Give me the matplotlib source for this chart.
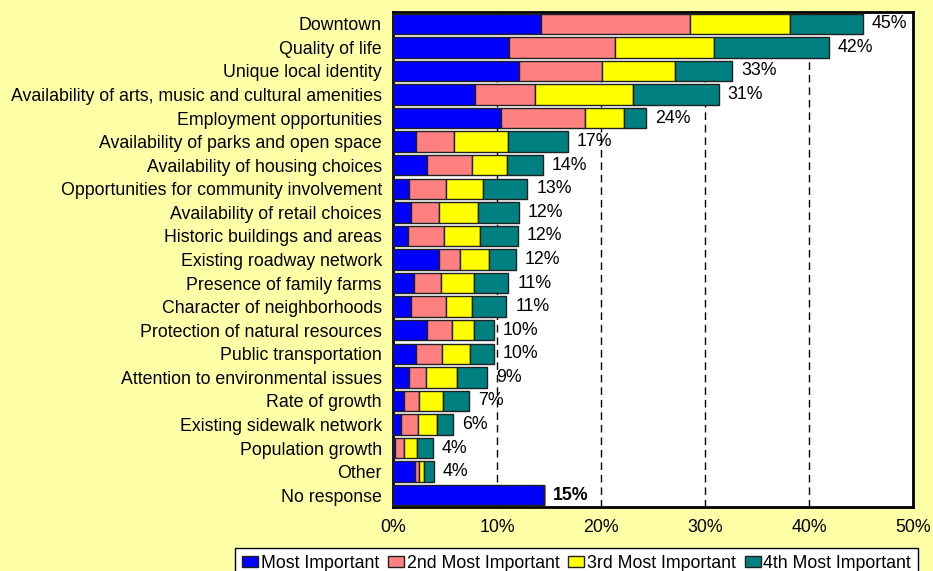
import matplotlib
matplotlib.use("Agg")
import matplotlib.pyplot as plt
import numpy as np

plt.rcParams['font.family'] = ['Liberation Sans', 'DejaVu Sans']

categories = [
    "Downtown",
    "Quality of life",
    "Unique local identity",
    "Availability of arts, music and cultural amenities",
    "Employment opportunities",
    "Availability of parks and open space",
    "Availability of housing choices",
    "Opportunities for community involvement",
    "Availability of retail choices",
    "Historic buildings and areas",
    "Existing roadway network",
    "Presence of family farms",
    "Character of neighborhoods",
    "Protection of natural resources",
    "Public transportation",
    "Attention to environmental issues",
    "Rate of growth",
    "Existing sidewalk network",
    "Population growth",
    "Other",
    "No response",
]

most_important = [14.2, 11.2, 12.1, 7.9, 10.4, 2.2, 3.3, 1.5, 1.7, 1.4, 4.4, 2.0, 1.7, 3.3, 2.2, 1.5, 1.1, 0.8, 0.2, 2.1, 14.5]
second_important = [14.4, 10.1, 8.0, 5.8, 8.1, 3.7, 4.3, 3.6, 2.7, 3.5, 2.0, 2.6, 3.4, 2.4, 2.5, 1.7, 1.4, 1.6, 0.9, 0.4, 0.0]
third_important = [9.6, 9.6, 7.0, 9.4, 3.7, 5.2, 3.4, 3.6, 3.8, 3.5, 2.8, 3.2, 2.5, 2.1, 2.7, 3.0, 2.3, 1.8, 1.2, 0.5, 0.0]
fourth_important = [7.0, 11.0, 5.5, 8.2, 2.1, 5.7, 3.4, 4.2, 3.9, 3.6, 2.6, 3.3, 3.3, 1.9, 2.3, 2.8, 2.5, 1.6, 1.5, 0.9, 0.0]

total_labels = ["45%", "42%", "33%", "31%", "24%", "17%", "14%", "13%", "12%", "12%", "12%",
                "11%", "11%", "10%", "10%", "9%", "7%", "6%", "4%", "4%", "15%"]

series_names = ["Most Important", "2nd Most Important", "3rd Most Important", "4th Most Important"]
series_colors = ["#0000FF", "#FF8080", "#FFFF00", "#008080"]

x_ticks = [0, 10, 20, 30, 40, 50]
x_tick_labels = ["0%", "10%", "20%", "30%", "40%", "50%"]

FS = 12.8
bg = "#FFFFA8"
W, H = 933, 571
fig = plt.figure(figsize=(W / 100, H / 100), dpi=100, facecolor=bg)
ax = fig.add_axes([393 / W, 1 - 507 / H, (913 - 393) / W, (507 - 12) / H])
ax.set_facecolor("white")

y = np.arange(len(categories))
series = [most_important, second_important, third_important, fourth_important]
left = np.zeros(len(categories))
for vals, name, col in zip(series, series_names, series_colors):
    vals = np.array(vals)
    ax.barh(y, vals, left=left, height=0.87, color=col, edgecolor="#202020",
            linewidth=1.0, label=name, zorder=3)
    left = left + vals

for i, (tot, lab) in enumerate(zip(left, total_labels)):
    bold = (categories[i] == "No response")
    ax.annotate(lab, xy=(tot, y[i]), xytext=(6.5, 0), textcoords="offset points",
                ha="left", va="center", fontsize=FS,
                fontweight="bold" if bold else "normal", color="black", zorder=4)

ax.set_xlim(0, 50)
ax.set_ylim(len(categories) - 0.5, -0.5)
ax.set_xticks(x_ticks)
ax.set_xticklabels(x_tick_labels)
ax.set_yticks(y)
ax.set_yticklabels(categories)
ax.tick_params(axis="both", length=0, labelsize=FS)
ax.tick_params(axis="y", pad=8.0)
ax.tick_params(axis="x", pad=9)

for gx in [10, 20, 30, 40]:
    ax.axvline(gx, color="black", linewidth=1.0, linestyle=(0, (5.5, 3.5)), zorder=1)

for sp in ax.spines.values():
    sp.set_linewidth(2.0)
    sp.set_color("black")

leg = fig.legend(loc="upper left", bbox_to_anchor=(235 / W, 1 - 548 / H),
                 ncol=4, fontsize=FS, frameon=True, fancybox=False,
                 edgecolor="black", facecolor="white", framealpha=1.0,
                 handlelength=0.9, handleheight=0.57, handletextpad=0.15,
                 columnspacing=0.5, borderpad=0.4, borderaxespad=0)
leg.get_frame().set_linewidth(1.0)

fig.savefig("out.png", dpi=100, facecolor=bg)
